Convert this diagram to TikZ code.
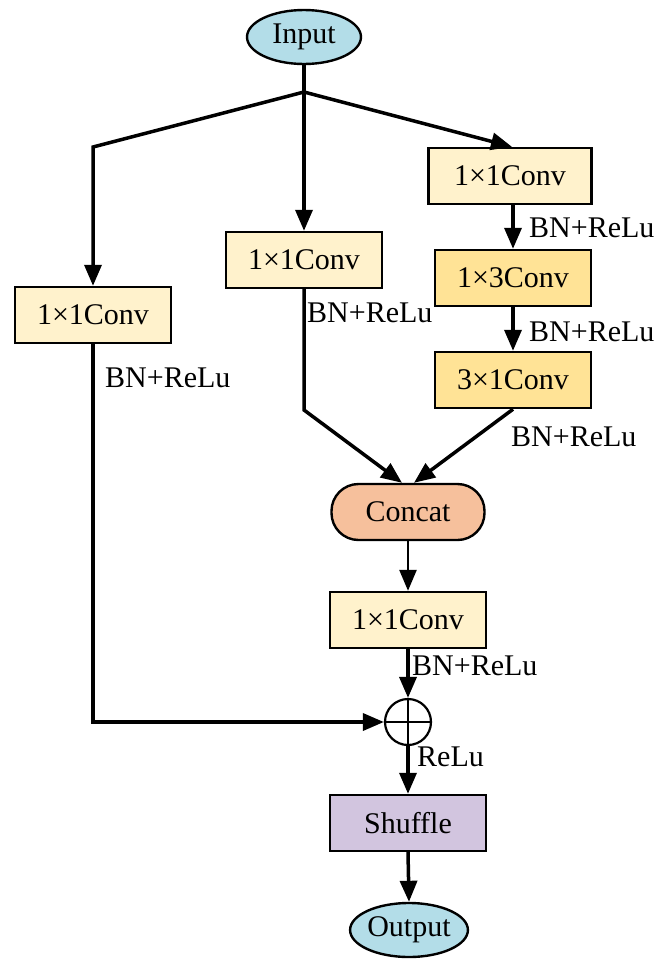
\documentclass[tikz,border=0pt]{standalone}
\usepackage{fontspec}
\setmainfont{Liberation Serif}
\usetikzlibrary{arrows.meta,calc,shapes.geometric}
\definecolor{termblue}{HTML}{B3DDE8}
\definecolor{convlight}{HTML}{FFF2CC}
\definecolor{convdark}{HTML}{FFE396}
\definecolor{concatfill}{HTML}{F6C09C}
\definecolor{shufflefill}{HTML}{D2C5DF}
\begin{document}
\begin{tikzpicture}[x=1pt,y=-1pt,
  txt/.style={font=\fontsize{30}{35}\selectfont},
  convbox/.style={draw, line width=2.4pt, fill=convlight, minimum width=156pt,
    minimum height=56pt, inner sep=0pt, txt},
  convboxdark/.style={convbox, fill=convdark},
  terminal/.style={draw, ellipse, line width=2.4pt, fill=termblue,
    minimum width=114pt, minimum height=54pt, inner sep=0pt, txt},
  link/.style={line width=3.5pt},
  arr/.style={link, -{Triangle[width=17pt,length=21pt]}},
  lbl/.style={anchor=west, inner sep=0pt, txt}
]
\useasboundingbox (0,0) rectangle (669,959);

% nodes
\node[terminal] (in) at (304,37) {Input};
\node[convbox] (left) at (93,315) {1×1Conv};
\node[convbox] (mid) at (304,260) {1×1Conv};
\node[convbox, minimum width=163pt] (r1) at (510,176) {1×1Conv};
\node[convboxdark] (r2) at (513,278) {1×3Conv};
\node[convboxdark] (r3) at (513,380) {3×1Conv};
\node[draw, line width=2.4pt, fill=concatfill, rounded corners=27pt,
  minimum width=153pt, minimum height=56pt, inner sep=0pt, txt] (concat) at (408,512) {Concat};
\node[convbox] (c2) at (408,620) {1×1Conv};
\node[draw, circle, line width=2.2pt, minimum size=46pt, inner sep=0pt] (plus) at (408,722) {};
\node[convbox, fill=shufflefill] (shuf) at (408,823) {Shuffle};
\node[terminal] (out) at (409,930) {Output};

\coordinate (split) at (304,92);
\coordinate (lcorner) at (93,147);
\coordinate (mbend) at (304,410);
\coordinate (lbend) at (93,722);

% plus sign inside the adder
\draw[line width=2.2pt] (plus.north) -- (plus.south) (plus.west) -- (plus.east);

% connectors
\draw[link] (in.south) -- (split);
\draw[arr] (split) -- (lcorner) -- (left.north);
\draw[arr] (split) -- (mid.north);
\draw[arr] (split) -- ($(r1.north)+(2,0)$);
\draw[arr] (r1.south -| r2.north) -- (r2.north);
\draw[arr] (r2.south) -- (r3.north);
\draw[arr] (mid.south) -- (mbend) -- ($(concat.north)+(-6,0)$);
\draw[arr] (r3.south) -- ($(concat.north)+(6,0)$);
\draw[arr, line width=2.6pt] (concat.south) -- (c2.north);
\draw[arr] (c2.south) -- (plus.north);
\draw[arr] (left.south) -- (lbend) -- (plus.west);
\draw[arr] (plus.south) -- (shuf.north);
\draw[arr] (shuf.south) -- (out.north);

% labels
\node[lbl] (l1) at (105,378) {BN+ReLu};
\node[lbl] (l2) at (307,313) {BN+ReLu};
\node[lbl] (l3) at (529,228) {BN+ReLu};
\node[lbl] (l4) at (529,332) {BN+ReLu};
\node[lbl] (l5) at (511,437) {BN+ReLu};
\node[lbl] (l6) at (412,666) {BN+ReLu};
\node[lbl] (l7) at (417,757) {ReLu};
\end{tikzpicture}
\end{document}
